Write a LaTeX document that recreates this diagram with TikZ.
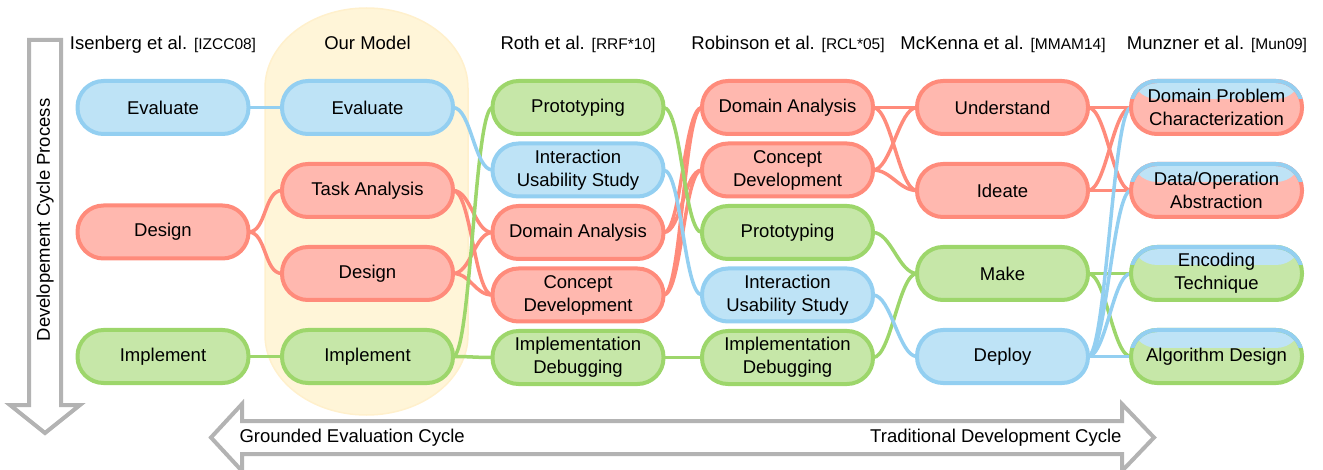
\documentclass[tikz,border=0pt]{standalone}
\usepackage{fontspec}
\setmainfont{Liberation Sans}
\usepackage{tikz}
\usetikzlibrary{positioning}

\definecolor{evalfill}{HTML}{BEE3F6}
\definecolor{evalline}{HTML}{93CFF1}
\definecolor{designfill}{HTML}{FFB8AF}
\definecolor{designline}{HTML}{FF8B7B}
\definecolor{implfill}{HTML}{C6E7A8}
\definecolor{implline}{HTML}{9DD66B}
\definecolor{modelfill}{HTML}{FFF5D8}
\definecolor{modeledge}{HTML}{FFF0CC}
\definecolor{arrowgray}{HTML}{B3B3B3}

\newcommand{\nodefont}{\fontsize{18.5}{23}\selectfont}
\newcommand{\reffont}{\fontsize{15.5}{18}\selectfont}

\pgfdeclarelayer{model}
\pgfdeclarelayer{links}
\pgfsetlayers{model,links,main}

\begin{document}
\begin{tikzpicture}[x=1pt, y=-1pt, font=\nodefont]
        % Setup the styles for the stages
        \tikzset{stage/.style={rectangle,
                               rounded corners=26pt,
                               minimum width=171pt,
                               minimum height=53pt,
                               line width=4pt,
                               outer sep=0pt,
                               inner sep=2pt,
                               align=center},
                 eval stage/.style={stage, draw=evalline, fill=evalfill},
                 design stage/.style={stage, draw=designline, fill=designfill},
                 impl stage/.style={stage, draw=implline, fill=implfill},
                 split design/.style={stage, draw=designline, fill=designfill,
                     path picture={\fill[evalfill] (path picture bounding box.north west)
                         rectangle ([yshift=8.5pt]path picture bounding box.east);}},
                 split impl/.style={stage, draw=implline, fill=implfill,
                     path picture={\fill[evalfill] (path picture bounding box.north west)
                         rectangle ([yshift=8.5pt]path picture bounding box.east);}},
                 link/.style={line width=3.5pt,
                              to path={.. controls +(18,0) and +(-18,0) .. (\tikztotarget)}},
                 header/.style={anchor=base},
                 big arrow/.style={draw=arrowgray, line width=4pt, fill=white}}

        \useasboundingbox (0,0) rectangle (1323,470);

        % Our model background
        \begin{pgfonlayer}{model}
            \draw[fill=modelfill, draw=modeledge, line width=1.5pt]
                (265,88) arc[start angle=180, end angle=0, x radius=101.5pt, y radius=80pt]
                -- (468,335) arc[start angle=0, end angle=-180, x radius=101.5pt, y radius=80pt]
                -- cycle;
        \end{pgfonlayer}

        % Headers
        \node[header] (hisen) at (163,50)    {Isenberg et al. {\reffont [IZCC08]}};
        \node[header] (hmodel) at (367.5,50) {Our Model};
        \node[header] (hroth) at (578,50)    {Roth et al. {\reffont [RRF*10]}};
        \node[header] (hrob) at (788,50)     {Robinson et al. {\reffont [RCL*05]}};
        \node[header] (hmck) at (1003,50)    {McKenna et al. {\reffont [MMAM14]}};
        \node[header] (hmun) at (1217,50)    {Munzner et al. {\reffont [Mun09]}};

        % Isenberg et al.
        \node[eval stage] at (163, 107.5)   (ieval)   {Evaluate};
        \node[design stage] at (163, 232)   (idesign) {Design};
        \node[impl stage] at (163, 356.5)   (iimpl)   {Implement};

        % Our model
        \node[eval stage] at (367.5, 107.5)   (oeval)   {Evaluate};
        \node[design stage] at (367.5, 190.5) (otask)   {Task Analysis};
        \node[design stage] at (367.5, 273.5) (odesign) {Design};
        \node[impl stage] at (367.5, 356.5)   (oimpl)   {Implement};

        % Roth et al.
        \node[impl stage] at (578, 107.5)   (rproto)   {Prototyping};
        \node[eval stage] at (578, 170)     (rinter)   {Interaction\\Usability Study};
        \node[design stage] at (578, 232.5) (rdomain)  {Domain Analysis};
        \node[design stage] at (578, 295)   (rconcept) {Concept\\Development};
        \node[impl stage] at (578, 357.5)   (rimpl)    {Implementation\\Debugging};

        % Robinson et al.
        \node[design stage] at (787.5, 107.5) (bdomain)  {Domain Analysis};
        \node[design stage] at (787.5, 170)   (bconcept) {Concept\\Development};
        \node[impl stage] at (787.5, 232.5)   (bproto)   {Prototyping};
        \node[eval stage] at (787.5, 295)     (binter)   {Interaction\\Usability Study};
        \node[impl stage] at (787.5, 357.5)   (bimpl)    {Implementation\\Debugging};

        % McKenna et al.
        \node[design stage] at (1002.5, 107.5) (munder)  {Understand};
        \node[design stage] at (1002.5, 190.5) (mideate) {Ideate};
        \node[impl stage] at (1002.5, 273.5)   (mmake)   {Make};
        \node[eval stage] at (1002.5, 356.5)   (mdeploy) {Deploy};

        % Munzner et al.
        \node[split design] at (1216.5, 107.5) (zproblem) {Domain Problem\\Characterization};
        \node[split design] at (1216.5, 190.5) (zdata)    {Data/Operation\\Abstraction};
        \node[split impl] at (1216.5, 273.5)   (zencode)  {Encoding\\Technique};
        \node[split impl] at (1216.5, 356.5)   (zalgo)    {Algorithm Design};

        % Blue top border of the Munzner stages
        \foreach \n in {zproblem, zdata, zencode, zalgo} {
            \begin{scope}
                \clip ([xshift=-100pt, yshift=8.5pt]\n.center) rectangle ([xshift=100pt, yshift=40pt]\n.center);
                \draw[draw=evalline, line width=4pt, rounded corners=26pt]
                    (\n.south west) rectangle (\n.north east);
            \end{scope}
        }

        % Connect the stages
        \begin{pgfonlayer}{links}
            \foreach \a/\b in {idesign/otask, idesign/odesign,
                               otask/rdomain, otask/rconcept, odesign/rdomain, odesign/rconcept,
                               rdomain/bdomain, rdomain/bconcept, rconcept/bdomain, rconcept/bconcept,
                               bdomain/munder, bdomain/mideate, bconcept/munder, bconcept/mideate,
                               munder/zproblem, munder/zdata, mideate/zproblem, mideate/zdata}
                \draw[link, draw=designline] (\a.east) to (\b.west);
            \foreach \a/\b in {iimpl/oimpl, oimpl/rproto, oimpl/rimpl,
                               rproto/bproto, rimpl/bimpl, bproto/mmake, bimpl/mmake,
                               mmake/zencode, mmake/zalgo}
                \draw[link, draw=implline] (\a.east) to (\b.west);
            \foreach \a/\b in {ieval/oeval, oeval/rinter, rinter/binter, binter/mdeploy,
                               mdeploy/zproblem, mdeploy/zdata, mdeploy/zencode, mdeploy/zalgo}
                \draw[link, draw=evalline] (\a.east) to (\b.west);
        \end{pgfonlayer}

        % Development cycle process arrow
        \draw[big arrow] (29,40) -- (61,40) -- (61,405) -- (80,405) -- (45,433)
            -- (10,405) -- (29,405) -- cycle;
        \node[rotate=90] (process) at (45,220) {Developement Cycle Process};

        % Cycle arrow at the bottom
        \draw[big arrow] (242,421) -- (1122,421) -- (1122,404) -- (1154,437.5) -- (1122,471)
            -- (1122,454) -- (242,454) -- (242,471) -- (211,437.5) -- (242,404) -- cycle;
        \node[anchor=west] (grounded) at (236,437.5) {Grounded Evaluation Cycle};
        \node[anchor=east] (traditional) at (1125,437.5) {Traditional Development Cycle};
\end{tikzpicture}
\end{document}
